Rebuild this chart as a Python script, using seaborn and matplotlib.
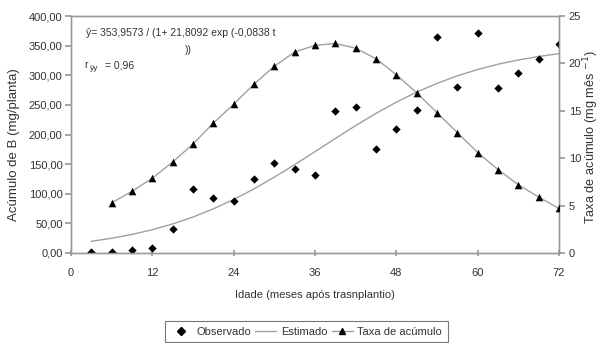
import matplotlib
matplotlib.use("Agg")
import matplotlib.pyplot as plt
import seaborn as sns
import pandas as pd
from matplotlib.lines import Line2D

sns.set_theme(style="white")
plt.rcParams['font.family'] = ['Liberation Sans', 'DejaVu Sans']

# Data
idade = [3, 6, 9, 12, 15, 18, 21, 24, 27, 30, 33, 36, 39, 42, 45, 48, 51, 54, 57, 60, 63, 66, 69, 72]
observado = [2, 2, 5, 8, 40, 108, 92, 87, 125, 152, 142, 131, 240, 247, 175, 210, 242, 365, 280, 372, 279, 303, 328, 352]
estimado = [19.7, 24.9, 31.4, 39.3, 49.1, 60.7, 74.5, 90.3, 108.2, 128.0, 149.0, 171.1, 193.3, 215.0,
            235.6, 254.6, 271.5, 286.3, 299.0, 309.7, 318.6, 325.8, 331.7, 336.4]
idade_taxa = [6, 9, 12, 15, 18, 21, 24, 27, 30, 33, 36, 39, 42, 45, 48, 51, 54, 57, 60, 63, 66, 69, 72]
taxa = [5.3, 6.5, 7.9, 9.6, 11.5, 13.7, 15.7, 17.8, 19.7, 21.2, 21.9, 22.1, 21.6, 20.5, 18.8, 16.9,
        14.8, 12.7, 10.6, 8.8, 7.2, 5.9, 4.7]
xticks = [0, 12, 24, 36, 48, 60, 72]
yticks_left = [0, 50, 100, 150, 200, 250, 300, 350, 400]
yticks_right = [0, 5, 10, 15, 20, 25]

df_obs = pd.DataFrame({"Idade": idade, "Observado": observado, "Estimado": estimado})
df_taxa = pd.DataFrame({"Idade": idade_taxa, "Taxa": taxa})

W, H = 601, 343
fig = plt.figure(figsize=(W / 100, H / 100), dpi=100)
ax = fig.add_axes([71 / W, 1 - 253 / H, (559 - 71) / W, (253 - 16) / H])
ax2 = ax.twinx()

txtc = "#333333"
linec = "#a0a0a0"
spinec = "#9a9a9a"

sns.lineplot(data=df_obs, x="Idade", y="Estimado", ax=ax, color=linec, lw=1.0, legend=False)
sns.scatterplot(data=df_obs, x="Idade", y="Observado", ax=ax, marker="D", s=18, color="black",
                edgecolor="black", linewidth=0, legend=False, zorder=5)
sns.lineplot(data=df_taxa, x="Idade", y="Taxa", ax=ax2, color=linec, lw=1.0, legend=False)
sns.scatterplot(data=df_taxa, x="Idade", y="Taxa", ax=ax2, marker="^", s=30, color="black",
                edgecolor="black", linewidth=0, legend=False, zorder=5)

ax.set_xlim(0, 72)
ax.set_ylim(0, 400)
ax2.set_ylim(0, 25)
ax.set_xticks(xticks)
ax.set_xticklabels([str(v) for v in xticks])
ax.set_yticks(yticks_left)
ax.set_yticklabels([f"{v:.2f}".replace(".", ",") for v in yticks_left])
ax2.set_yticks(yticks_right)
ax2.set_yticklabels([str(v) for v in yticks_right])

for a in (ax, ax2):
    for s in a.spines.values():
        s.set_color(spinec)
        s.set_linewidth(1.0)
ax.tick_params(axis="y", direction="out", length=4, color=spinec, labelsize=8, labelcolor=txtc, pad=2)
ax.tick_params(axis="x", direction="inout", length=5, color=spinec, labelsize=8, labelcolor=txtc, pad=8, bottom=True)
ax2.tick_params(axis="y", direction="out", length=4, color=spinec, labelsize=8, labelcolor=txtc, pad=3, right=True)

ax.set_xlabel("Idade (meses após trasnplantio)", fontsize=8, color=txtc, labelpad=9)
ax.set_ylabel("Acúmulo de B (mg/planta)", fontsize=9.5, color=txtc)
ax.yaxis.set_label_coords((14 - 71) / 488, (253 - 145) / 237)
ax.yaxis.label.set_va("center")
ax.yaxis.label.set_ha("center")
ax2.set_ylabel("Taxa de acúmulo (mg mês $^{-1}$)", fontsize=9.2, color=txtc, rotation=90)
ax2.yaxis.set_label_coords((591 - 71) / 488, (253 - 137) / 237)
ax2.yaxis.label.set_va("center")
ax2.yaxis.label.set_ha("center")

def px(x, y):
    return (x / W, 1 - y / H)

fig.text(*px(86, 33), "ŷ= 353,9573 / (1+ 21,8092 exp (-0,0838 t", fontsize=7.5, color=txtc, va="center")
fig.text(*px(185, 50), "))", fontsize=7.5, color=txtc, va="center")
fig.text(*px(84, 65), "r", fontsize=7.5, color=txtc, va="center")
fig.text(*px(90, 68), "ŷy", fontsize=6, color=txtc, va="center")
fig.text(*px(105, 65), "= 0,96", fontsize=7.5, color=txtc, va="center")

handles = [
    Line2D([], [], ls="none", marker="D", ms=4, color="black"),
    Line2D([], [], color=linec, lw=1.0),
    Line2D([], [], color=linec, lw=1.0, marker="^", ms=5, mfc="black", mec="black"),
]
labels = ["Observado", "Estimado", "Taxa de acúmulo"]
leg = fig.legend(handles, labels, loc="upper left", bbox_to_anchor=(165 / W, 1 - 321 / H), ncol=3,
                 fontsize=8, frameon=True, fancybox=False, handlelength=1.9, handletextpad=0.4,
                 columnspacing=0.4, borderpad=0.5, borderaxespad=0, labelcolor=txtc)
leg.get_frame().set_edgecolor("#555555")
leg.get_frame().set_linewidth(0.8)

fig.savefig("out.png", dpi=100)
